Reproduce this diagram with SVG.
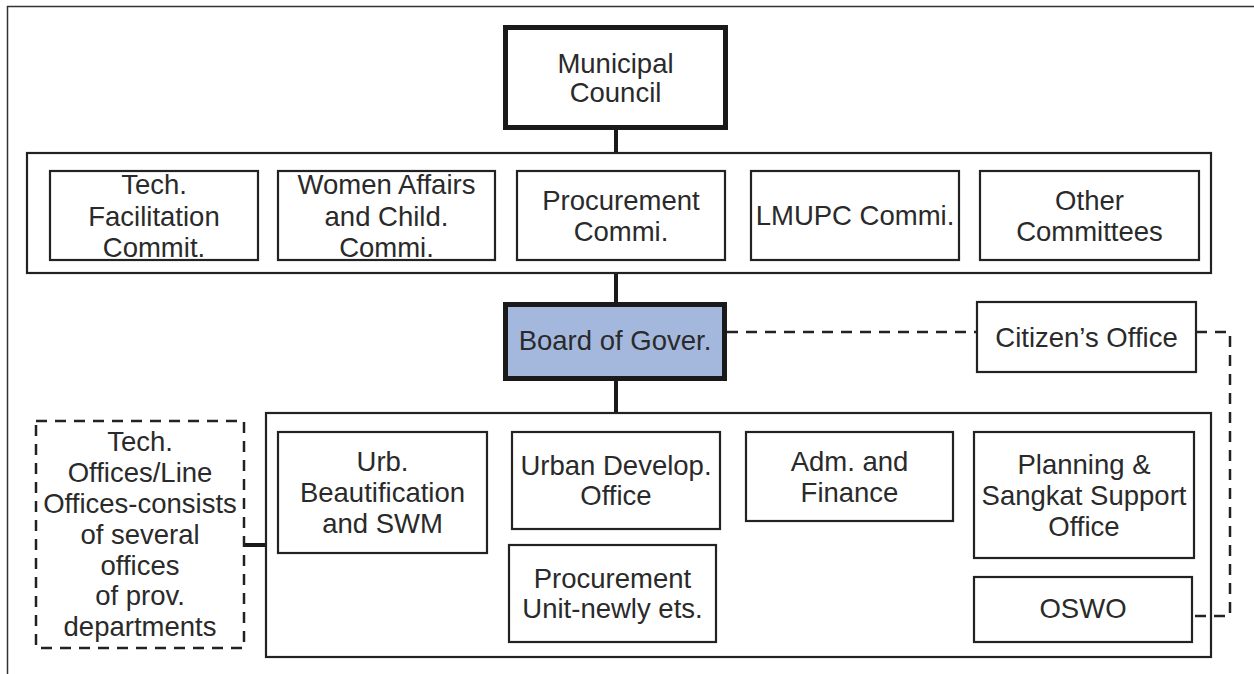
<svg xmlns="http://www.w3.org/2000/svg" width="1254" height="674" viewBox="0 0 1254 674">
<style>
.t{font-family:"Liberation Sans",Arial,sans-serif;font-size:27.5px;fill:#2a2a2a;text-anchor:middle}
.box{fill:#fff;stroke:#222;stroke-width:2.2}
.thick{fill:#fff;stroke:#1a1a1a;stroke-width:5}
.band{fill:none;stroke:#222;stroke-width:2.2}
.conn{stroke:#1a1a1a;stroke-width:4;fill:none}
.dash{stroke:#222;stroke-width:2.5;fill:none;stroke-dasharray:11 8}
</style>
<rect width="1254" height="674" fill="#fff"/>
<path d="M7.5 674 V6.5 H1254" fill="none" stroke="#333" stroke-width="1.5"/>
<g id="connectors">
<line class="conn" x1="616" y1="130" x2="616" y2="153"/>
<line class="conn" x1="616" y1="273" x2="616" y2="302"/>
<line class="conn" x1="616" y1="381" x2="616" y2="413"/>
<line class="conn" x1="244" y1="545" x2="266" y2="545"/>
<path class="dash" d="M727 332 H977"/>
<path class="dash" d="M1196 332 H1230 V616 H1192"/>
</g>
<g id="municipal-council">
<rect class="thick" x="505.5" y="27.5" width="220" height="100"/>
<text class="t" x="615.5" y="73">Municipal</text>
<text class="t" x="615.5" y="102">Council</text>
</g>
<g id="committees">
<rect class="band" x="27" y="153" width="1184" height="120"/>
</g>
<g id="tech-facilitation">
<rect class="box" x="50" y="171" width="208" height="89"/>
<text class="t" x="154" y="194">Tech.</text>
<text class="t" x="154" y="225.5">Facilitation</text>
<text class="t" x="154" y="257">Commit.</text>
</g>
<g id="women-affairs">
<rect class="box" x="278" y="171" width="217" height="89"/>
<text class="t" x="386.5" y="194">Women Affairs</text>
<text class="t" x="386.5" y="225.5">and Child.</text>
<text class="t" x="386.5" y="257">Commi.</text>
</g>
<g id="procurement-commi">
<rect class="box" x="517" y="171" width="208" height="89"/>
<text class="t" x="621" y="210">Procurement</text>
<text class="t" x="621" y="241">Commi.</text>
</g>
<g id="lmupc">
<rect class="box" x="751" y="171" width="208" height="89"/>
<text class="t" x="855" y="225">LMUPC Commi.</text>
</g>
<g id="other-committees">
<rect class="box" x="980" y="171" width="219" height="89"/>
<text class="t" x="1089.5" y="210">Other</text>
<text class="t" x="1089.5" y="241">Committees</text>
</g>
<g id="board">
<rect x="505.5" y="304.5" width="219" height="74" fill="#a4b8dd" stroke="#1a1a1a" stroke-width="5"/>
<text class="t" x="615" y="350">Board of Gover.</text>
</g>
<g id="citizens-office">
<rect class="box" x="977" y="302" width="219" height="70"/>
<text class="t" x="1086.5" y="347">Citizen’s Office</text>
</g>
<g id="offices">
<rect class="band" x="266" y="413" width="945" height="244"/>
</g>
<g id="tech-offices">
<rect class="dash" x="36" y="421" width="208" height="227"/>
<text class="t" x="140" y="451">Tech.</text>
<text class="t" x="140" y="482">Offices/Line</text>
<text class="t" x="140" y="513">Offices-consists</text>
<text class="t" x="140" y="544">of several</text>
<text class="t" x="140" y="575">offices</text>
<text class="t" x="140" y="605">of prov.</text>
<text class="t" x="140" y="636">departments</text>
</g>
<g id="urb-beautification">
<rect class="box" x="278" y="432" width="209" height="121"/>
<text class="t" x="382.5" y="471">Urb.</text>
<text class="t" x="382.5" y="502">Beautification</text>
<text class="t" x="382.5" y="533">and SWM</text>
</g>
<g id="urban-develop">
<rect class="box" x="512" y="432" width="208" height="97"/>
<text class="t" x="616" y="475">Urban Develop.</text>
<text class="t" x="616" y="505">Office</text>
</g>
<g id="procurement-unit">
<rect class="box" x="509" y="545" width="207" height="97"/>
<text class="t" x="612.5" y="588">Procurement</text>
<text class="t" x="612.5" y="618">Unit-newly ets.</text>
</g>
<g id="adm-finance">
<rect class="box" x="746" y="432" width="207" height="89"/>
<text class="t" x="849.5" y="471">Adm. and</text>
<text class="t" x="849.5" y="502">Finance</text>
</g>
<g id="planning">
<rect class="box" x="974" y="432" width="220" height="126"/>
<text class="t" x="1084" y="474">Planning &amp;</text>
<text class="t" x="1084" y="505">Sangkat Support</text>
<text class="t" x="1084" y="536">Office</text>
</g>
<g id="oswo">
<rect class="box" x="974" y="577" width="218" height="65"/>
<text class="t" x="1083" y="618">OSWO</text>
</g>
</svg>
